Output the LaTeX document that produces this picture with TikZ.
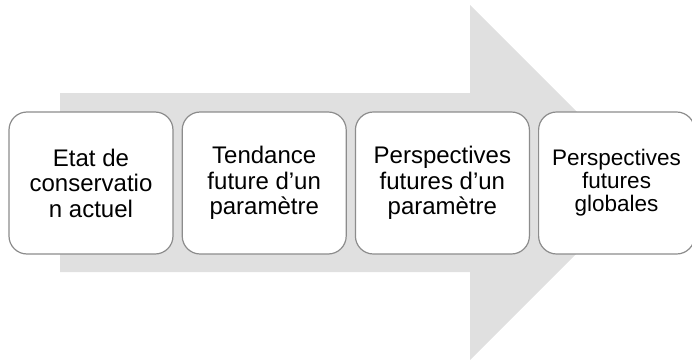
\documentclass[tikz,border=0pt]{standalone}
\usepackage{fontspec}
\setmainfont{Liberation Sans}
\usetikzlibrary{positioning}
\definecolor{flechegris}{RGB}{224,224,224}
\definecolor{bordgris}{RGB}{140,140,140}
\tikzset{
  etape/.style={draw=bordgris, line width=1.2pt, fill=white, rounded corners=18pt,
    minimum height=142pt, align=center, inner sep=0pt,
    font=\fontsize{24}{25.5}\selectfont},
}
\begin{document}
\begin{tikzpicture}[x=1pt, y=-1pt, node distance=8pt]
        \useasboundingbox (0,0) rectangle (692,361);

        % grande fleche de fond
        \fill[flechegris] (60,93) -- (470,93) -- (470,5) -- (647.5,182.5)
            -- (470,360) -- (470,272) -- (60,272) -- cycle;

        \node[etape, minimum width=164pt] (etat) at (91,183) {Etat de\\conservatio\\n actuel};
        \node[etape, minimum width=164pt, right=of etat] (tendance) {Tendance\\future d’un\\paramètre};
        \node[etape, minimum width=174pt, right=of tendance] (perspec) {Perspectives\\futures d’un\\paramètre};
        \node[etape, minimum width=156pt, right=of perspec,
              font=\fontsize{22.5}{23}\selectfont] (globales) {Perspectives\\futures\\globales};
    \end{tikzpicture}
\end{document}
